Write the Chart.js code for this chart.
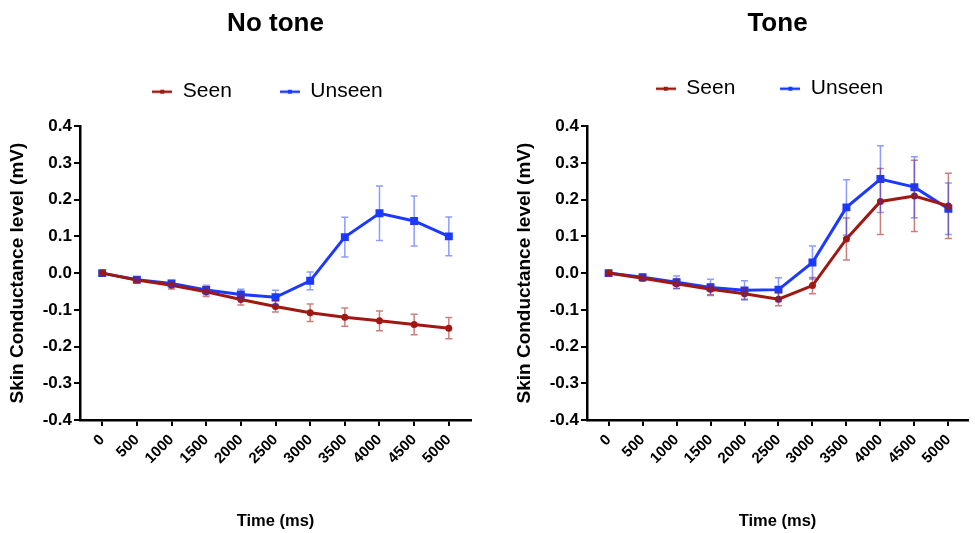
<!DOCTYPE html>
<html>
<head>
<meta charset="utf-8">
<script src="https://cdn.jsdelivr.net/npm/chart.js@4/dist/chart.umd.min.js"></script>
<style>
  html, body { margin: 0; padding: 0; background: #fff; overflow: hidden; }
  #wrap { position: relative; width: 975px; height: 533px; }
  canvas { position: absolute; top: 0; }
  #left { left: 0; }
  #right { left: 490px; }
</style>
</head>
<body>
<div id="wrap">
  <canvas id="left" width="490" height="533"></canvas>
  <canvas id="right" width="485" height="533"></canvas>
</div>
<script>
// time points (ms)
const times = [0, 500, 1000, 1500, 2000, 2500, 3000, 3500, 4000, 4500, 5000];
const yTicks = [-0.4, -0.3, -0.2, -0.1, 0, 0.1, 0.2, 0.3, 0.4];

// No tone panel: means and error (SEM)
const noToneSeen = [0, -0.019, -0.033, -0.051, -0.072, -0.091, -0.108, -0.12, -0.13, -0.14, -0.15];
const noToneSeenErr = [0, 0.005, 0.01, 0.013, 0.015, 0.015, 0.024, 0.025, 0.027, 0.028, 0.029];
const noToneUnseen = [0, -0.018, -0.028, -0.046, -0.058, -0.066, -0.021, 0.098, 0.163, 0.142, 0.1];
const noToneUnseenErr = [0, 0.004, 0.008, 0.013, 0.014, 0.019, 0.024, 0.054, 0.074, 0.068, 0.053];

// Tone panel
const toneSeen = [0, -0.014, -0.029, -0.044, -0.056, -0.071, -0.034, 0.093, 0.195, 0.21, 0.183];
const toneSeenErr = [0, 0.008, 0.013, 0.015, 0.015, 0.018, 0.022, 0.057, 0.09, 0.097, 0.089];
const toneUnseen = [0, -0.011, -0.025, -0.039, -0.047, -0.045, 0.029, 0.179, 0.256, 0.234, 0.175];
const toneUnseenErr = [0, 0.008, 0.017, 0.022, 0.026, 0.032, 0.045, 0.075, 0.091, 0.083, 0.07];

const RED = 'rgb(160, 24, 18)';
const BLUE = 'rgb(28, 58, 255)';
const RED_ERR = 'rgba(160, 24, 18, 0.55)';
const BLUE_ERR = 'rgba(28, 58, 255, 0.5)';

Chart.defaults.font.family = "'Liberation Sans', Arial, Helvetica, sans-serif";
Chart.defaults.color = '#000';

// vertical error bars with caps, drawn through the y scale
const errorBars = {
  id: 'errorBars',
  afterDatasetsDraw(chart) {
    const ctx = chart.ctx;
    const ys = chart.scales.y;
    chart.data.datasets.forEach((ds, i) => {
      const meta = chart.getDatasetMeta(i);
      if (!ds.errors || meta.hidden) return;
      ctx.save();
      ctx.strokeStyle = ds.errorColor;
      ctx.lineWidth = 1.5;
      meta.data.forEach((pt, j) => {
        const e = ds.errors[j];
        if (!e) return;
        const v = ds.data[j].y;
        const top = ys.getPixelForValue(v + e);
        const bot = ys.getPixelForValue(v - e);
        ctx.beginPath();
        ctx.moveTo(pt.x, top); ctx.lineTo(pt.x, bot);
        ctx.moveTo(pt.x - 3.5, top); ctx.lineTo(pt.x + 3.5, top);
        ctx.moveTo(pt.x - 3.5, bot); ctx.lineTo(pt.x + 3.5, bot);
        ctx.stroke();
      });
      ctx.restore();
    });
  }
};

// nudge the legend a little left of the plot centre, like the original
const legendShift = {
  id: 'legendShift',
  afterLayout(chart) {
    const lg = chart.legend;
    if (!lg) return;
    lg.left -= 8;
    lg.right -= 8;
  }
};

function legendMark(color) {
  const c = document.createElement('canvas');
  c.width = 20; c.height = 8;
  const g = c.getContext('2d');
  g.strokeStyle = color; g.lineWidth = 2.5;
  g.beginPath(); g.moveTo(0, 4); g.lineTo(20, 4); g.stroke();
  g.fillStyle = color;
  g.fillRect(8, 2, 4, 4);
  return c;
}
const marks = [legendMark(RED), legendMark(BLUE)];

function points(vals) {
  return times.map((t, i) => ({ x: t, y: vals[i] }));
}

function makeChart(id, title, seen, seenErr, unseen, unseenErr, o) {
  return new Chart(document.getElementById(id), {
    type: 'line',
    data: {
      datasets: [
        {
          label: 'Seen', data: points(seen), errors: seenErr, errorColor: RED_ERR,
          borderColor: RED, backgroundColor: RED, borderWidth: 3,
          pointStyle: 'circle', pointRadius: 2, tension: 0
        },
        {
          label: 'Unseen', data: points(unseen), errors: unseenErr, errorColor: BLUE_ERR,
          borderColor: BLUE, backgroundColor: BLUE, borderWidth: 3,
          pointStyle: 'rect', pointRadius: 3.5, tension: 0
        }
      ]
    },
    options: {
      responsive: false,
      animation: false,
      devicePixelRatio: 1,
      layout: { padding: { left: 0, right: o.padRight, top: 0, bottom: 0 } },
      plugins: {
        tooltip: { enabled: false },
        title: {
          display: true, text: title, fullSize: false, color: '#000',
          font: { size: 26, weight: 'bold' },
          padding: { top: 8, bottom: -6 }
        },
        // empty subtitle placed under the legend, used only as a gap
        subtitle: {
          display: true, text: '', weight: 500, fullSize: false,
          font: { size: 10 },
          padding: { top: o.gap, bottom: 0 }
        },
        legend: {
          display: true, position: 'top', fullSize: false,
          labels: {
            usePointStyle: true, pointStyleWidth: 20, padding: o.legendPad,
            color: '#000', font: { size: 21 },
            generateLabels(chart) {
              const items = Chart.defaults.plugins.legend.labels.generateLabels(chart);
              items.forEach((it, i) => { it.pointStyle = marks[i]; });
              return items;
            }
          }
        }
      },
      scales: {
        x: {
          type: 'linear', min: o.xMin, max: o.xMax,
          afterBuildTicks(scale) { scale.ticks = times.map(v => ({ value: v })); },
          afterFit(scale) { scale.height = 113; },
          grid: { display: true, drawOnChartArea: false, drawTicks: true, tickLength: 6, color: '#000', lineWidth: 2 },
          border: { display: true, color: '#000', width: 2.5 },
          ticks: {
            autoSkip: false, minRotation: 45, maxRotation: 45, padding: 5, color: '#000',
            font: { size: 15, weight: 'bold' },
            callback: v => String(v)
          },
          title: {
            display: true, text: 'Time (ms)', color: '#000',
            font: { size: 16.5, weight: 'bold' },
            padding: { top: 4, bottom: 2 }
          }
        },
        y: {
          min: -0.4, max: 0.4,
          afterBuildTicks(scale) { scale.ticks = yTicks.map(v => ({ value: v })); },
          afterFit(scale) { scale.width = o.yWidth; },
          grid: { display: true, drawOnChartArea: false, drawTicks: true, tickLength: 6, color: '#000', lineWidth: 2 },
          border: { display: true, color: '#000', width: 2.5 },
          ticks: {
            padding: 2, color: '#000',
            font: { size: 17, weight: 'bold' },
            callback: v => (Math.abs(v) < 1e-9 ? 0 : v).toFixed(1)
          },
          title: {
            display: true, text: 'Skin Conductance level (mV)', color: '#000',
            font: { size: 19, weight: 'bold' },
            padding: { top: o.yTitlePad, bottom: 4 }
          }
        }
      }
    },
    plugins: [errorBars, legendShift]
  });
}

makeChart('left', 'No tone', noToneSeen, noToneSeenErr, noToneUnseen, noToneUnseenErr,
  { padRight: 19, legendPad: 48, gap: 2, xMin: -320, xMax: 5320, yWidth: 80, yTitlePad: 6 });
makeChart('right', 'Tone', toneSeen, toneSeenErr, toneUnseen, toneUnseenErr,
  { padRight: 0, legendPad: 45, gap: 5, xMin: -318, xMax: 5289, yWidth: 97, yTitlePad: 23 });
</script>
</body>
</html>
